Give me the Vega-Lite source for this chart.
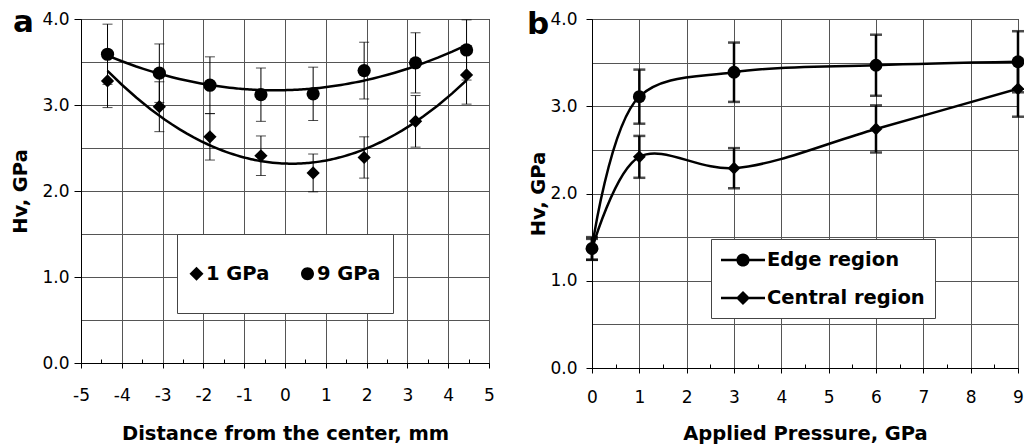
{
  "$schema": "https://vega.github.io/schema/vega-lite/v6.json",
  "background": "white",
  "padding": {"left": 10, "top": 6, "right": 1, "bottom": 1},
  "spacing": 31,
  "resolve": {"scale": {"shape": "independent"}, "legend": {"shape": "independent"}},
  "config": {
    "view": {"stroke": "black", "strokeWidth": 1},
    "font": "DejaVu Sans",
    "axis": {
      "domainColor": "black", "tickColor": "black", "gridColor": "#555", "gridWidth": 1,
      "labelFont": "DejaVu Sans", "labelFontSize": 17, "labelColor": "black",
      "titleFont": "DejaVu Sans", "titleFontSize": 19.5, "titleFontWeight": "bold", "titleColor": "black"
    }
  },
  "datasets": {
    "a": [
      {"series": "9 GPa", "x": -4.35, "hv": 3.59, "lo": 3.24, "hi": 3.94},
      {"series": "9 GPa", "x": -3.08, "hv": 3.37, "lo": 3.03, "hi": 3.71},
      {"series": "9 GPa", "x": -1.84, "hv": 3.23, "lo": 2.90, "hi": 3.56},
      {"series": "9 GPa", "x": -0.59, "hv": 3.12, "lo": 2.81, "hi": 3.43},
      {"series": "9 GPa", "x": 0.69, "hv": 3.13, "lo": 2.82, "hi": 3.44},
      {"series": "9 GPa", "x": 1.94, "hv": 3.40, "lo": 3.07, "hi": 3.73},
      {"series": "9 GPa", "x": 3.2, "hv": 3.49, "lo": 3.14, "hi": 3.84},
      {"series": "9 GPa", "x": 4.45, "hv": 3.64, "lo": 3.29, "hi": 3.99},
      {"series": "1 GPa", "x": -4.35, "hv": 3.28, "lo": 2.97, "hi": 3.59},
      {"series": "1 GPa", "x": -3.08, "hv": 2.98, "lo": 2.69, "hi": 3.27},
      {"series": "1 GPa", "x": -1.84, "hv": 2.63, "lo": 2.36, "hi": 2.90},
      {"series": "1 GPa", "x": -0.59, "hv": 2.41, "lo": 2.18, "hi": 2.64},
      {"series": "1 GPa", "x": 0.69, "hv": 2.21, "lo": 1.99, "hi": 2.43},
      {"series": "1 GPa", "x": 1.94, "hv": 2.39, "lo": 2.15, "hi": 2.63},
      {"series": "1 GPa", "x": 3.2, "hv": 2.81, "lo": 2.51, "hi": 3.11},
      {"series": "1 GPa", "x": 4.45, "hv": 3.35, "lo": 3.01, "hi": 3.69}
    ],
    "b": [
      {"series": "Edge region", "x": 0, "hv": 1.37, "lo": 1.24, "hi": 1.50},
      {"series": "Edge region", "x": 1, "hv": 3.11, "lo": 2.80, "hi": 3.42},
      {"series": "Edge region", "x": 3, "hv": 3.39, "lo": 3.05, "hi": 3.73},
      {"series": "Edge region", "x": 6, "hv": 3.47, "lo": 3.12, "hi": 3.82},
      {"series": "Edge region", "x": 9, "hv": 3.51, "lo": 3.16, "hi": 3.86},
      {"series": "Central region", "x": 0, "hv": 1.36, "lo": 1.24, "hi": 1.48},
      {"series": "Central region", "x": 1, "hv": 2.42, "lo": 2.18, "hi": 2.66},
      {"series": "Central region", "x": 3, "hv": 2.29, "lo": 2.06, "hi": 2.52},
      {"series": "Central region", "x": 6, "hv": 2.74, "lo": 2.47, "hi": 3.01},
      {"series": "Central region", "x": 9, "hv": 3.20, "lo": 2.88, "hi": 3.52}
    ],
    "labelA": [{"panel": "a", "px": -5, "py": 4}],
    "labelB": [{"panel": "b", "px": 0, "py": 4}]
  },
  "hconcat": [
    {
      "width": 408, "height": 344,
      "data": {"name": "a"},
      "encoding": {
        "x": {"field": "x", "type": "quantitative", "title": "Distance from the center, mm",
          "scale": {"domain": [-5, 5], "nice": false, "zero": false},
          "axis": {"values": [-5, -4.5, -4, -3.5, -3, -2.5, -2, -1.5, -1, -0.5, 0, 0.5, 1, 1.5, 2, 2.5, 3, 3.5, 4, 4.5, 5],
            "labelExpr": "datum.value % 1 === 0 ? '' + datum.value : ''", "labelFlush": false, "labelOverlap": false,
            "gridOpacity": {"condition": {"test": "datum.value % 1 !== 0", "value": 0}, "value": 1},
            "tickSize": {"condition": {"test": "datum.value % 1 !== 0", "value": -4}, "value": 5},
            "labelPadding": 19, "titlePadding": 21}},
        "y": {"field": "hv", "type": "quantitative", "title": "Hv, GPa",
          "scale": {"domain": [0, 4], "nice": false},
          "axis": {"values": [0, 0.5, 1, 1.5, 2, 2.5, 3, 3.5, 4],
            "labelExpr": "datum.value % 1 === 0 ? format(datum.value, '.1f') : ''", "labelOverlap": false,
            "tickOpacity": {"condition": {"test": "datum.value % 1 !== 0", "value": 0}, "value": 1},
            "tickSize": 7, "labelPadding": 5, "titlePadding": 11}}
      },
      "layer": [
        {
          "mark": {"type": "errorbar", "ticks": true, "size": 10, "thickness": 1, "color": "black"},
          "encoding": {"y": {"field": "lo", "type": "quantitative", "title": "Hv, GPa"}, "y2": {"field": "hi"}}
        },
        {
          "transform": [{"regression": "hv", "on": "x", "groupby": ["series"], "method": "poly", "order": 2}],
          "mark": {"type": "line", "color": "black", "strokeWidth": 2.5},
          "encoding": {"detail": {"field": "series", "type": "nominal"}}
        },
        {
          "mark": {"type": "point", "filled": true, "color": "black", "opacity": 1, "size": 175},
          "encoding": {
            "shape": {"condition": {"test": "datum.series === '9 GPa'", "value": "circle"}, "value": "diamond"}
          }
        },
        {
          "transform": [{"filter": "false"}],
          "mark": {"type": "point", "filled": true, "color": "black", "opacity": 1},
          "encoding": {
            "shape": {"field": "series", "type": "nominal",
              "scale": {"domain": ["1 GPa", "9 GPa"],
                "range": ["M-0.727,-0.2545L-0.4725,0L-0.727,0.2545L-0.9815,0ZM-0.727,0.98", "M-0.491,0A0.236,0.236,0,1,1,-0.963,0A0.236,0.236,0,1,1,-0.491,0ZM-0.727,0.98"]},
              "legend": {"orient": "none", "legendX": 96, "legendY": 215, "direction": "horizontal", "title": null,
                "fillColor": "white", "strokeColor": "#444", "padding": 12,
                "labelFont": "DejaVu Sans", "labelFontSize": 19.5, "labelFontWeight": "bold", "labelColor": "black",
                "labelOffset": -38, "columnPadding": 30, "symbolSize": 3025,
                "symbolFillColor": "black", "symbolStrokeColor": "black", "symbolStrokeWidth": 0, "symbolOpacity": 1}}
          }
        },
        {
          "data": {"name": "labelA"},
          "mark": {"type": "text", "font": "DejaVu Sans", "fontSize": 31, "fontWeight": "bold", "fill": "black", "align": "left", "baseline": "alphabetic", "dx": -68, "dy": 13},
          "encoding": {"x": {"field": "px", "type": "quantitative"}, "y": {"field": "py", "type": "quantitative"}, "text": {"field": "panel", "type": "nominal"}}
        }
      ]
    },
    {
      "width": 426, "height": 349,
      "data": {"name": "b"},
      "encoding": {
        "x": {"field": "x", "type": "quantitative", "title": "Applied Pressure, GPa",
          "scale": {"domain": [0, 9], "nice": false, "zero": false},
          "axis": {"values": [0, 0.5, 1, 1.5, 2, 2.5, 3, 3.5, 4, 4.5, 5, 5.5, 6, 6.5, 7, 7.5, 8, 8.5, 9],
            "labelExpr": "datum.value % 1 === 0 ? '' + datum.value : ''", "labelFlush": false, "labelOverlap": false,
            "gridOpacity": {"condition": {"test": "datum.value % 1 !== 0", "value": 0}, "value": 1},
            "tickSize": {"condition": {"test": "datum.value % 1 !== 0", "value": -4}, "value": 5},
            "labelPadding": 16, "titlePadding": 19}},
        "y": {"field": "hv", "type": "quantitative", "title": "Hv, GPa",
          "scale": {"domain": [0, 4], "nice": false},
          "axis": {"values": [0, 0.5, 1, 1.5, 2, 2.5, 3, 3.5, 4],
            "labelExpr": "datum.value % 1 === 0 ? format(datum.value, '.1f') : ''", "labelOverlap": false,
            "tickOpacity": {"condition": {"test": "datum.value % 1 !== 0", "value": 0}, "value": 1},
            "tickSize": 6, "labelPadding": 9, "titlePadding": 1}}
      },
      "layer": [
        {
          "mark": {"type": "errorbar", "ticks": true, "size": 12, "thickness": 2.5, "color": "black"},
          "encoding": {"y": {"field": "lo", "type": "quantitative", "title": "Hv, GPa"}, "y2": {"field": "hi"}}
        },
        {
          "mark": {"type": "line", "color": "black", "strokeWidth": 2.5, "interpolate": "catmull-rom"},
          "encoding": {"detail": {"field": "series", "type": "nominal"}, "order": {"field": "x", "type": "quantitative"}}
        },
        {
          "mark": {"type": "point", "filled": true, "color": "black", "opacity": 1, "size": 165},
          "encoding": {
            "shape": {"condition": {"test": "datum.series === 'Edge region'", "value": "circle"}, "value": "diamond"}
          }
        },
        {
          "transform": [{"filter": "false"}],
          "mark": {"type": "point", "filled": true, "color": "black", "opacity": 1},
          "encoding": {
            "shape": {"field": "series", "type": "nominal",
              "scale": {"domain": ["Edge region", "Central region"],
                "range": ["M-1,-0.12L0.45,-0.12L0.45,0.12L-1,0.12ZM1.55,-0.12L3,-0.12L3,0.12L1.55,0.12ZM1.6,0A0.6,0.6,0,1,1,0.4,0A0.6,0.6,0,1,1,1.6,0Z", "M-1,-0.12L0.45,-0.12L0.45,0.12L-1,0.12ZM1.55,-0.12L3,-0.12L3,0.12L1.55,0.12ZM1,-0.64L1.64,0L1,0.64L0.36,0Z"]},
              "legend": {"orient": "none", "legendX": 119, "legendY": 220, "direction": "vertical", "title": null,
                "fillColor": "white", "strokeColor": "#444", "padding": 10, "rowPadding": 17,
                "labelFont": "DejaVu Sans", "labelFontSize": 19.5, "labelFontWeight": "bold", "labelColor": "black",
                "labelOffset": 24, "symbolSize": 484,
                "symbolFillColor": "black", "symbolStrokeColor": "black", "symbolStrokeWidth": 0, "symbolOpacity": 1}}
          }
        },
        {
          "data": {"name": "labelB"},
          "mark": {"type": "text", "font": "DejaVu Sans", "fontSize": 31, "fontWeight": "bold", "fill": "black", "align": "left", "baseline": "alphabetic", "dx": -65, "dy": 15},
          "encoding": {"x": {"field": "px", "type": "quantitative"}, "y": {"field": "py", "type": "quantitative"}, "text": {"field": "panel", "type": "nominal"}}
        }
      ]
    }
  ]
}
